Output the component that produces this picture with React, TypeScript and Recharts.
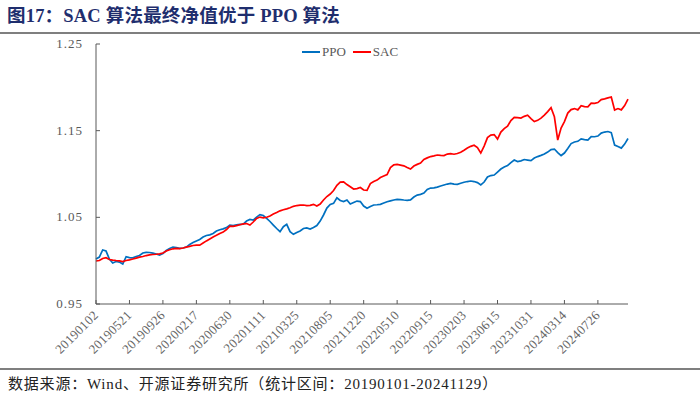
import { LineChart, Line, XAxis, YAxis, Legend } from "recharts";

const title = "图17：SAC 算法最终净值优于 PPO 算法";
const source = "数据来源：Wind、开源证券研究所（统计区间：20190101-20241129）";

// one label every 10 points
const tickDates = [
  "20190102", "20190521", "20190926", "20200217", "20200630", "20201111",
  "20210325", "20210805", "20211220", "20220510", "20220915", "20230203",
  "20230615", "20231031", "20240314", "20240726",
];
const yTicks = [0.95, 1.05, 1.15, 1.25];

const ppo = [
  1.0019, 1.0042, 1.0123, 1.0111, 1.0019, 0.9973, 0.999, 0.9984, 0.9961, 1.0046,
  1.0036, 1.0032, 1.0048, 1.0059, 1.0088, 1.0096, 1.0094, 1.0088, 1.0077, 1.0065,
  1.0082, 1.0117, 1.014, 1.0157, 1.0152, 1.0142, 1.0146, 1.0157, 1.0186, 1.0209,
  1.0227, 1.0244, 1.0273, 1.029, 1.0298, 1.0313, 1.0342, 1.0357, 1.0367, 1.0382,
  1.0411, 1.0405, 1.0413, 1.0419, 1.0421, 1.0457, 1.0475, 1.0469, 1.0503, 1.0532,
  1.0521, 1.0488, 1.0452, 1.0411, 1.0371, 1.0334, 1.0392, 1.0419, 1.0334, 1.0304,
  1.0325, 1.0342, 1.0371, 1.0377, 1.0365, 1.0382, 1.0405, 1.0457, 1.0527, 1.0607,
  1.0648, 1.0661, 1.0726, 1.0694, 1.0682, 1.07, 1.0653, 1.0671, 1.0688, 1.0682,
  1.063, 1.0604, 1.0625, 1.0642, 1.0645, 1.065, 1.0665, 1.068, 1.069, 1.07,
  1.0708, 1.0705, 1.07, 1.0696, 1.0702, 1.0734, 1.0757, 1.0765, 1.078, 1.0821,
  1.0838, 1.084, 1.0849, 1.0861, 1.0873, 1.0884, 1.0892, 1.0884, 1.088, 1.0893,
  1.0905, 1.0913, 1.0919, 1.0913, 1.0901, 1.0873, 1.0907, 1.0965, 1.0982, 1.0988,
  1.1022, 1.1057, 1.108, 1.1097, 1.1132, 1.1161, 1.1144, 1.1152, 1.1167, 1.1161,
  1.1155, 1.1184, 1.1201, 1.1215, 1.123, 1.1253, 1.1282, 1.1288, 1.1247, 1.1213,
  1.1242, 1.1294, 1.1351, 1.1369, 1.1377, 1.1405, 1.1397, 1.1392, 1.1432, 1.143,
  1.1438, 1.1472, 1.1484, 1.149, 1.1478, 1.1334, 1.1317, 1.1299, 1.1345, 1.1409,
];

const sac = [
  0.9996, 1.0002, 1.0025, 1.0034, 1.0013, 1.0007, 1.0002, 0.9998, 0.999, 1.0002,
  1.001, 1.0019, 1.003, 1.004, 1.0048, 1.0059, 1.0067, 1.0071, 1.0074, 1.0079,
  1.0088, 1.0111, 1.0126, 1.0137, 1.0142, 1.014, 1.0146, 1.0157, 1.0165, 1.0175,
  1.018, 1.0179, 1.0203, 1.0228, 1.0251, 1.0274, 1.0292, 1.0313, 1.033, 1.0359,
  1.0399, 1.0396, 1.0405, 1.0415, 1.0425, 1.0428, 1.0411, 1.0446, 1.0488, 1.0503,
  1.0495, 1.0501, 1.0515, 1.0538, 1.0555, 1.0575, 1.0587, 1.0598, 1.061, 1.0627,
  1.0636, 1.064, 1.0642, 1.0636, 1.0638, 1.065, 1.063, 1.0653, 1.07, 1.074,
  1.0769, 1.0809, 1.087, 1.0907, 1.091, 1.0878, 1.0852, 1.0826, 1.0832, 1.0844,
  1.0815, 1.0812, 1.089, 1.0913, 1.093, 1.0959, 1.0976, 1.0994, 1.1074, 1.1106,
  1.1111, 1.1103, 1.1094, 1.1074, 1.1057, 1.1092, 1.1111, 1.1126, 1.1167, 1.1186,
  1.1201, 1.1209, 1.1219, 1.1215, 1.1213, 1.123, 1.1235, 1.1228, 1.1236, 1.1251,
  1.1274, 1.1299, 1.1319, 1.1332, 1.1305, 1.1242, 1.1322, 1.142, 1.1449, 1.1455,
  1.1403, 1.1484, 1.1524, 1.1553, 1.1617, 1.1653, 1.1651, 1.1645, 1.1665, 1.1678,
  1.164, 1.1605, 1.1619, 1.1645, 1.168, 1.172, 1.1766, 1.166, 1.1392, 1.153,
  1.1605, 1.1703, 1.1743, 1.1755, 1.174, 1.1789, 1.1778, 1.1774, 1.1818, 1.1816,
  1.1824, 1.1858, 1.1867, 1.1878, 1.1888, 1.1738, 1.1755, 1.174, 1.1789, 1.1864,
];

const rows = ppo.map((v, i) => ({ t: i, ppo: v, sac: sac[i] }));
const xTicks = tickDates.map((_, i) => i * 10);

const serif = "'Liberation Serif', 'Times New Roman', serif";
const cjk = "'Liberation Serif', 'Noto Sans CJK SC', serif";
const axisGray = "#595959";
const X_MARGIN = 12;

function YTick({ x, y, payload }: any) {
  return (
    <g>
      <line x1={x + 13} x2={x + 17} y1={y} y2={y} stroke={axisGray} />
      <text x={x} y={y} dy={4} textAnchor="end" fill={axisGray} fontSize={13} fontFamily={serif} letterSpacing={1}>
        {payload.value.toFixed(2)}
      </text>
    </g>
  );
}

function XTick({ x, y, payload }: any) {
  const label = tickDates[xTicks.indexOf(payload.value)] ?? "";
  const tx = x + 3;
  const axisY = y - X_MARGIN;
  return (
    <g>
      <line x1={x} x2={x} y1={axisY} y2={axisY - 4} stroke={axisGray} />
      <text
        x={tx}
        y={y}
        textAnchor="end"
        fill="#666"
        fontSize={13}
        fontFamily={serif}
        letterSpacing={0.3}
        transform={`rotate(-45, ${tx}, ${y})`}
      >
        {label}
      </text>
    </g>
  );
}

function LegendBox({ payload }: any) {
  return (
    <div style={{ display: "flex", justifyContent: "center", gap: 7, fontFamily: serif, fontSize: 13, lineHeight: "15px", color: axisGray }}>
      {(payload ?? []).map((p: any) => (
        <span key={p.value} style={{ display: "flex", alignItems: "center" }}>
          <span style={{ width: 18, height: 2, background: p.color, marginRight: 2 }} />
          {p.value}
        </span>
      ))}
    </div>
  );
}

export default function App() {
  return (
    <div style={{ position: "fixed", left: 0, top: 0, width: 700, height: 404, background: "#fff", overflow: "hidden" }}>
      <div style={{ position: "absolute", left: 7, top: 5, fontFamily: cjk, fontWeight: 700, fontSize: 18.5, lineHeight: "22px", letterSpacing: 0.2, color: "#1F2E6E", whiteSpace: "nowrap" }}>
        {title}
      </div>
      <div style={{ position: "absolute", left: 0, top: 32, width: 700, height: 2, background: "#7F7F7F" }} />

      <div style={{ position: "absolute", left: 0, top: 0 }}>
        <LineChart width={700} height={404} data={rows} margin={{ top: 44, right: 72, bottom: 40, left: 0 }}>
          <XAxis
            dataKey="t"
            type="number"
            domain={[0, ppo.length - 1]}
            ticks={xTicks}
            interval={0}
            height={60}
            tickSize={0}
            tickMargin={X_MARGIN}
            tickLine={false}
            axisLine={{ stroke: axisGray }}
            tick={<XTick />}
          />
          <YAxis
            type="number"
            domain={[0.95, 1.25]}
            ticks={yTicks}
            interval={0}
            width={96}
            tickSize={0}
            tickMargin={13}
            tickLine={false}
            axisLine={{ stroke: axisGray }}
            tick={<YTick />}
            allowDataOverflow
          />
          <Legend
            layout="horizontal"
            verticalAlign="middle"
            align="center"
            wrapperStyle={{ top: 44, left: 0, width: 700 }}
            content={<LegendBox />}
          />
          <Line type="linear" dataKey="ppo" name="PPO" stroke="#0070C0" strokeWidth={1.7} dot={false} isAnimationActive={false} />
          <Line type="linear" dataKey="sac" name="SAC" stroke="#FF0000" strokeWidth={1.7} dot={false} isAnimationActive={false} />
        </LineChart>
      </div>

      <div style={{ position: "absolute", left: 0, top: 368, width: 700, height: 2, background: "#7F7F7F" }} />
      <div style={{ position: "absolute", left: 8, top: 375, fontFamily: cjk, fontSize: 15, lineHeight: "18px", letterSpacing: 0.8, color: "#222", whiteSpace: "nowrap" }}>
        {source}
      </div>
    </div>
  );
}
